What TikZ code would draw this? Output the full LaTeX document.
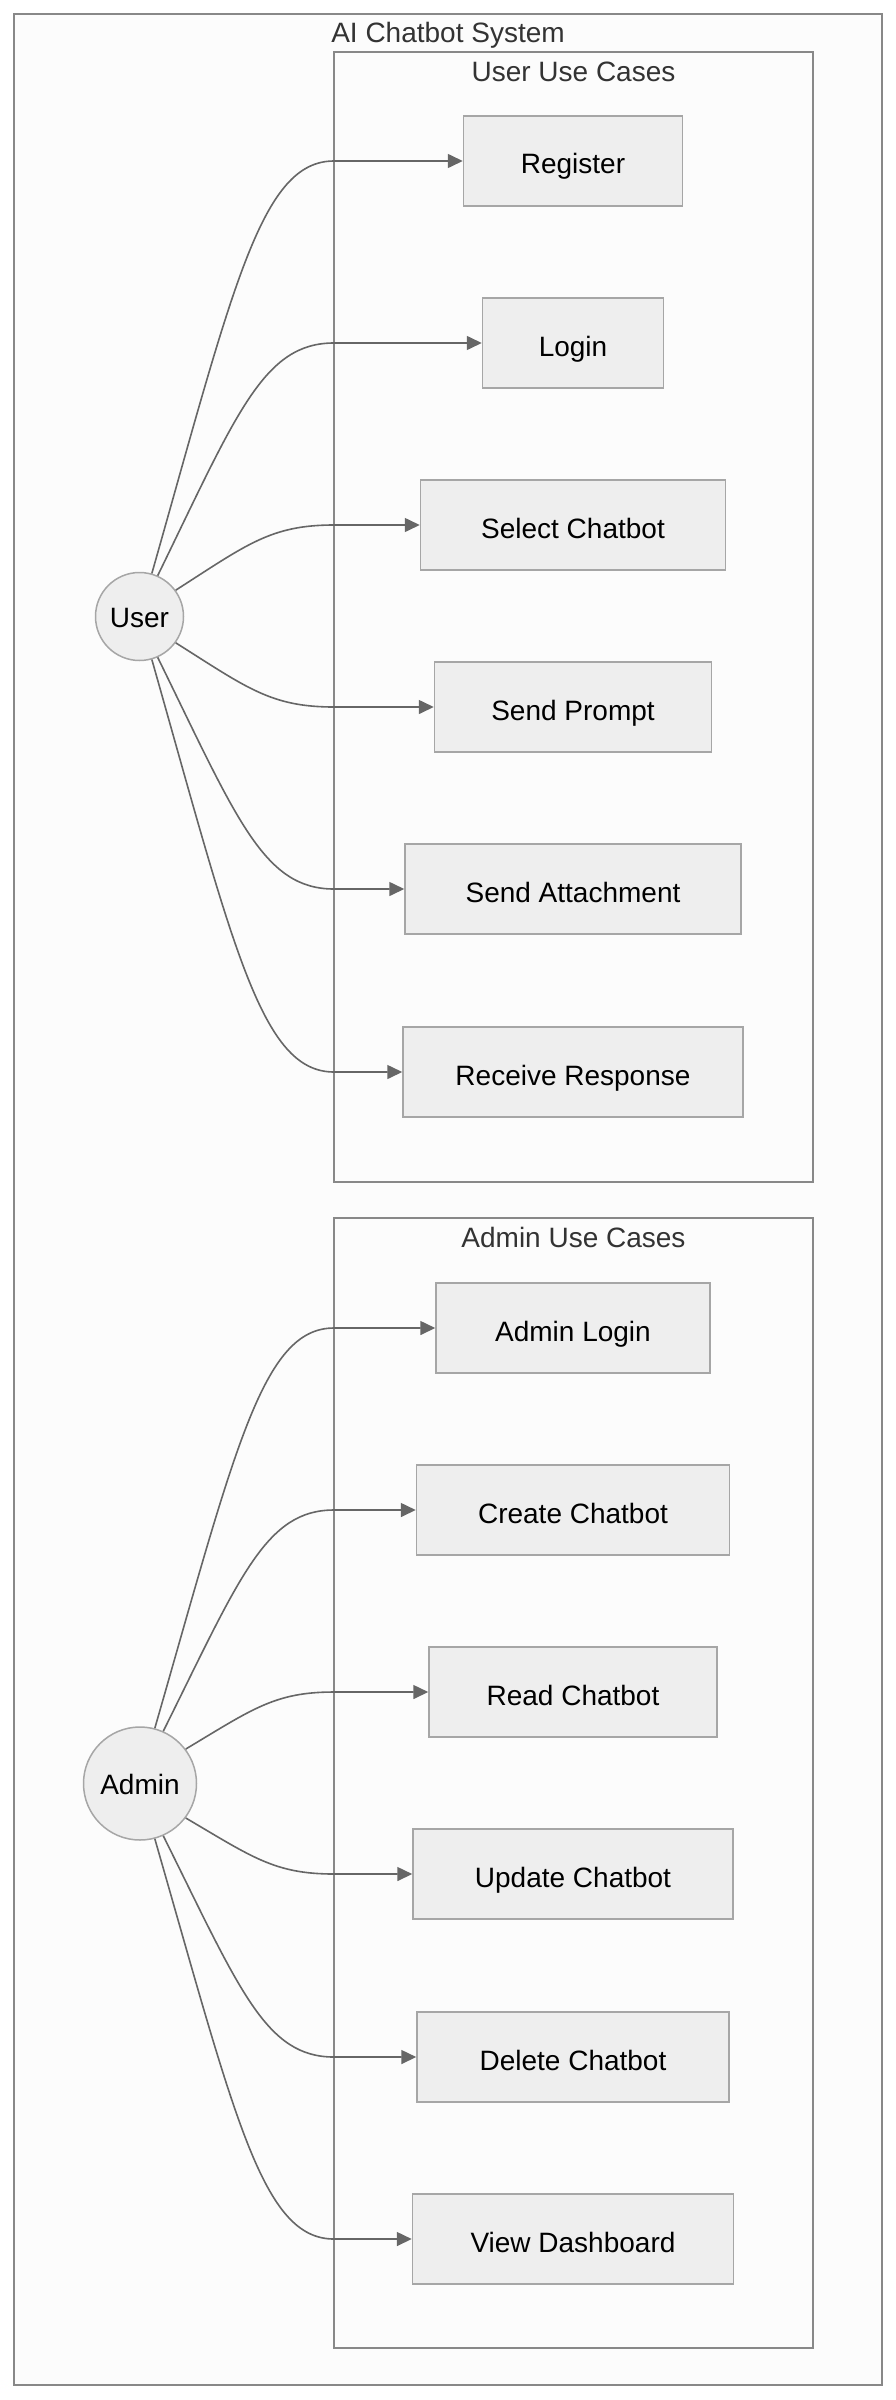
\documentclass[tikz,border=0pt]{standalone}
\usepackage{fontspec}
\setmainfont{Liberation Sans}
\usetikzlibrary{calc,arrows.meta}
\definecolor{pagebg}{HTML}{FFFFFF}
\definecolor{clusterfill}{HTML}{FCFCFC}
\definecolor{clusterstroke}{HTML}{888888}
\definecolor{nodefill}{HTML}{EEEEEE}
\definecolor{nodestroke}{HTML}{A6A6A6}
\definecolor{edgecol}{HTML}{666666}
\definecolor{titlecol}{HTML}{333333}
\newcommand\usecaseedge[3]{%
  \draw[edge] let \p1=(#1), \p2=(#2.west -| #3) in
    (\p1) .. controls ({\x1+0.45*(\x2-\x1)},{\y1+0.7*(\y2-\y1)})
    and ({\x1+0.6*(\x2-\x1)},\y2) .. (\p2) -- (#2.west);
}
\begin{document}
\begin{tikzpicture}[x=1pt,y=-1pt,
  txt/.style={font=\fontsize{28pt}{34pt}\selectfont},
  cluster/.style={draw=clusterstroke,fill=clusterfill,line width=1.6pt},
  ctitle/.style={txt,text=titlecol,anchor=base,inner sep=0pt},
  uc/.style={txt,draw=nodestroke,fill=nodefill,line width=1.5pt,rectangle,
    minimum height=90pt,inner sep=0pt,text height=26pt,text depth=0pt},
  actor/.style={txt,draw=nodestroke,fill=nodefill,line width=1.5pt,circle,
    inner sep=0pt,text height=22pt,text depth=0pt},
  edge/.style={draw=edgecol,line width=1.6pt,-{Triangle[length=15pt,width=14pt]}}
]
\useasboundingbox (0,0) rectangle (896,2400);
\fill[pagebg] (0,0) rectangle (896,2400);
% clusters
\draw[cluster] (14,14) rectangle (882,2385);
\draw[cluster] (334,52) rectangle (813,1182);
\draw[cluster] (334,1218) rectangle (813,2348);
\coordinate (ucl) at (334,52);
\coordinate (acl) at (334,1218);
\node[ctitle] (tsys) at (448,43) {AI Chatbot System};
\node[ctitle] (tuser) at (573.5,81.5) {User Use Cases};
\node[ctitle] (tadmin) at (573.5,1247.5) {Admin Use Cases};
% actors
\node[actor,minimum size=88pt] (user) at (139.5,616.5) {User};
\node[actor,minimum size=113pt] (admin) at (140,1783.5) {Admin};
% user use cases
\node[uc,minimum width=219pt] (reg) at (573,161) {Register};
\node[uc,minimum width=181pt] (login) at (573,343) {Login};
\node[uc,minimum width=305pt] (sel) at (573,525) {Select Chatbot};
\node[uc,minimum width=277pt] (prompt) at (573,707) {Send Prompt};
\node[uc,minimum width=336pt] (attach) at (573,889) {Send Attachment};
\node[uc,minimum width=340pt] (recv) at (573,1072) {Receive Response};
% admin use cases
\node[uc,minimum width=274pt] (alogin) at (573,1328) {Admin Login};
\node[uc,minimum width=313pt] (create) at (573,1510) {Create Chatbot};
\node[uc,minimum width=288pt] (read) at (573,1692) {Read Chatbot};
\node[uc,minimum width=320pt] (update) at (573,1874) {Update Chatbot};
\node[uc,minimum width=312pt] (delete) at (573,2057) {Delete Chatbot};
\node[uc,minimum width=321pt] (dash) at (573,2239) {View Dashboard};
% edges
\usecaseedge{user.74}{reg}{ucl}
\usecaseedge{user.66.5}{login}{ucl}
\usecaseedge{user.36}{sel}{ucl}
\usecaseedge{user.-36}{prompt}{ucl}
\usecaseedge{user.-66.5}{attach}{ucl}
\usecaseedge{user.-74}{recv}{ucl}
\usecaseedge{admin.75}{alogin}{acl}
\usecaseedge{admin.66}{create}{acl}
\usecaseedge{admin.37}{read}{acl}
\usecaseedge{admin.-37}{update}{acl}
\usecaseedge{admin.-66}{delete}{acl}
\usecaseedge{admin.-75}{dash}{acl}
\end{tikzpicture}
\end{document}
